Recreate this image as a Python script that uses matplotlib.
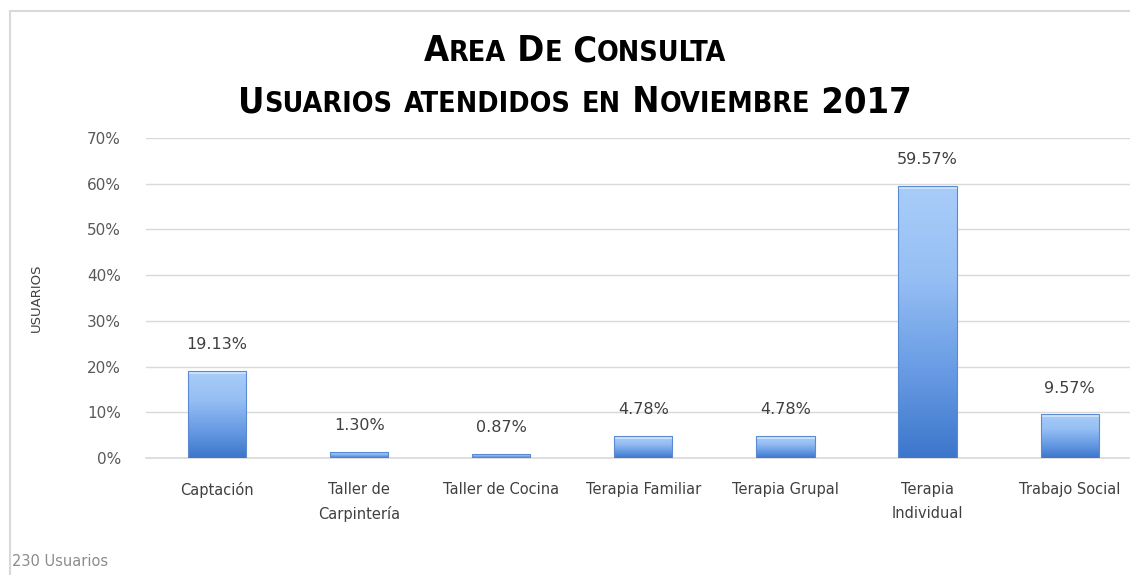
import numpy as np
import matplotlib
matplotlib.use("Agg")
import matplotlib.pyplot as plt
from matplotlib.colors import LinearSegmentedColormap
from matplotlib.patches import Rectangle

categories = ["Captación", "Taller de\nCarpintería", "Taller de Cocina", "Terapia Familiar",
              "Terapia Grupal", "Terapia\nIndividual", "Trabajo Social"]
values = [19.13, 1.30, 0.87, 4.78, 4.78, 59.57, 9.57]
yticks = [0, 10, 20, 30, 40, 50, 60, 70]
title_lines = ["Area De Consulta", "Usuarios atendidos en Noviembre 2017"]
footnote = "230 Usuarios"
ylabel = "USUARIOS"

W, H = 1130, 575
fig = plt.figure(figsize=(W / 100, H / 100), dpi=100)
fig.patch.set_facecolor("white")

# chart border (top/left visible)
fig.add_artist(plt.Line2D([10 / W, 10 / W], [0, 1 - 11 / H], color="#d9d9d9", lw=1.5, transform=fig.transFigure))
fig.add_artist(plt.Line2D([10 / W, 1], [1 - 11 / H, 1 - 11 / H], color="#d9d9d9", lw=1.5, transform=fig.transFigure))

left_px, bottom_px, top_px = 146, 458, 138
span = 142.1 * 7
ax = fig.add_axes([left_px / W, (H - bottom_px) / H, span / W, (bottom_px - top_px) / H])
ax.set_xlim(-0.5, len(categories) - 0.5)
ax.set_ylim(0, 70)
for s in ax.spines.values():
    s.set_visible(False)
ax.set_yticks(yticks)
ax.set_yticklabels([f"{t}%" for t in yticks], color="#595959", fontsize=11)
ax.yaxis.grid(True, color="#d9d9d9", lw=1)
ax.axhline(0, color="#d9d9d9", lw=1.2, zorder=1, clip_on=False)
ax.set_axisbelow(True)
ax.tick_params(axis="y", length=0, pad=18)
ax.tick_params(axis="x", length=0, pad=17)
x = np.arange(len(categories))
ax.set_xticks(x)
ax.set_xticklabels(categories, color="#404040", fontsize=10.5, linespacing=1.75, va="top")
ax.set_ylabel(ylabel, color="#404040", fontsize=9.5, labelpad=32)

cmap = LinearSegmentedColormap.from_list("barg", ["#3c76cb", "#6a9de5", "#96bff4", "#a9cdf9"])
bw = 0.41
bars = ax.bar(x, values, width=bw, color="none", edgecolor="#5b8ad0", lw=0.8, zorder=3)
grad = np.linspace(0, 1, 256).reshape(-1, 1)
for b, v in zip(bars, values):
    x0 = b.get_x()
    im = ax.imshow(grad, extent=[x0, x0 + bw, 0, v], origin="lower", aspect="auto",
                   cmap=cmap, zorder=2, interpolation="bicubic")
    im.set_clip_path(b)
    bev = min(0.7, v * 0.15)
    ax.add_patch(Rectangle((x0, v - bev), bw, bev, facecolor="#d4e8ff", edgecolor="none", alpha=0.8, zorder=2.5))
    ax.text(b.get_x() + bw / 2, v + 4.1, f"{v:.2f}%", ha="center", va="bottom", fontsize=11.5, color="#404040")

# small caps title
fam = "DejaVu Sans"
big, small = 26, 20.5
fig.canvas.draw()
rend = fig.canvas.get_renderer()

def small_caps(line, ypix):
    groups = []
    for ch in line:
        ch2, sz = (ch.upper(), small) if ch.islower() else (ch, big)
        if groups and groups[-1][1] == sz:
            groups[-1][0] += ch2
        else:
            groups.append([ch2, sz])
    texts = []
    for s, sz in groups:
        t = fig.text(0, 0, s, fontsize=sz, fontweight="bold", family=fam, stretch="condensed",
                     color="black", va="baseline", ha="left")
        bb = t.get_window_extent(rend)
        texts.append((t, bb.width))
    total = sum(w for _, w in texts)
    xp = 575 - total / 2
    for t, w in texts:
        t.set_position((xp / W, (H - ypix) / H))
        xp += w

small_caps(title_lines[0], 61)
small_caps(title_lines[1], 112)

fig.text(12 / W, (H - 562) / H, footnote, fontsize=10.5, color="#8c8c8c", va="center", ha="left")

fig.savefig("out.png", dpi=100, facecolor="white")
